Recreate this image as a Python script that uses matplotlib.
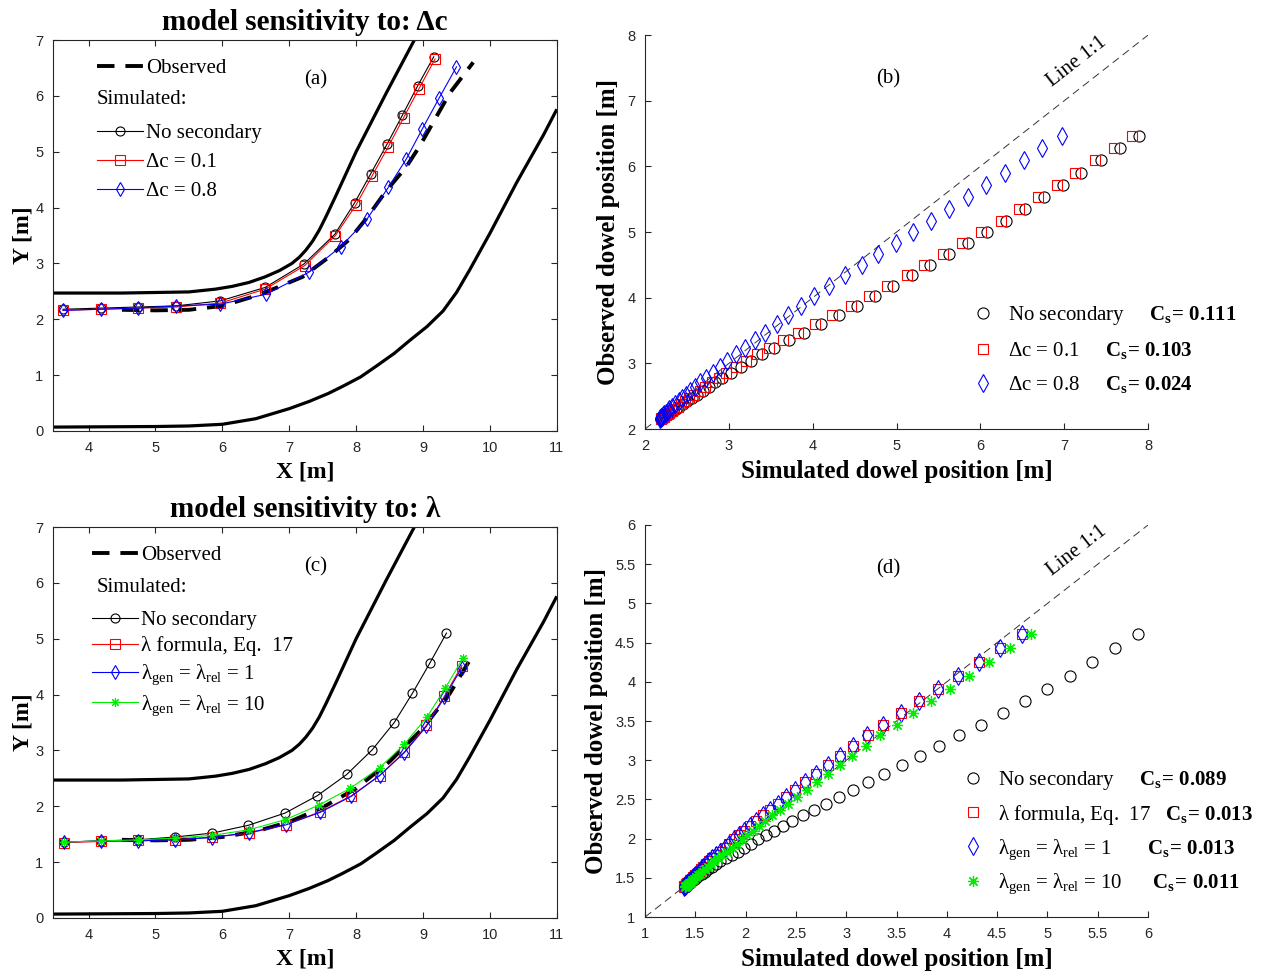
import matplotlib
matplotlib.use("Agg")
import matplotlib.pyplot as plt

plt.rcParams['font.family'] = ['Liberation Serif', 'DejaVu Serif']
plt.rcParams['mathtext.fontset'] = 'custom'
plt.rcParams['mathtext.rm'] = 'Liberation Serif'
plt.rcParams['mathtext.it'] = 'Liberation Serif:italic'
plt.rcParams['mathtext.bf'] = 'Liberation Serif:bold'

# channel banks (plan view, same flume in (a) and (c))
bank_up_x = [3.47, 4.5, 5.5, 5.66, 5.9, 6.15, 6.4, 6.64, 6.85, 7.04, 7.15, 7.25, 7.35, 7.45, 7.55, 7.7,
             8.0, 8.45, 8.87, 9.0]
bank_up_y = [2.47, 2.47, 2.49, 2.51, 2.54, 2.59, 2.66, 2.76, 2.87, 3.00, 3.11, 3.24, 3.40, 3.60, 3.84, 4.22,
             5.00, 6.05, 7.00, 7.30]
bank_lo_x = [3.47, 5.0, 5.5, 6.0, 6.5, 7.0, 7.3, 7.58, 7.8, 8.07, 8.3, 8.57, 8.8, 9.06, 9.3, 9.5, 9.7,
             10.0, 10.4, 10.8, 11.0]
bank_lo_y = [0.07, 0.08, 0.09, 0.12, 0.22, 0.40, 0.53, 0.67, 0.80, 0.97, 1.16, 1.39, 1.62, 1.87, 2.15, 2.48, 2.89,
             3.54, 4.45, 5.30, 5.76]

# (a) trajectories, sensitivity to delta c
obs_a_x = [4.5, 5.0, 5.5, 6.0, 6.5, 6.8, 7.2, 7.6, 7.9, 8.15, 8.45, 8.75, 8.95, 9.4, 9.75]
obs_a_y = [2.17, 2.16, 2.17, 2.24, 2.42, 2.56, 2.76, 3.12, 3.43, 3.80, 4.30, 4.73, 5.10, 6.05, 6.60]
nosec_a_x = [3.62, 4.18, 4.74, 5.31, 5.97, 6.64, 7.22, 7.68, 7.98, 8.22, 8.46, 8.69, 8.92, 9.16]
nosec_a_y = [2.18, 2.20, 2.22, 2.24, 2.33, 2.57, 2.99, 3.52, 4.09, 4.61, 5.13, 5.65, 6.18, 6.70]
dc01_a_x = [3.62, 4.18, 4.74, 5.31, 5.97, 6.64, 7.23, 7.69, 8.00, 8.24, 8.48, 8.71, 8.94, 9.18]
dc01_a_y = [2.16, 2.18, 2.20, 2.22, 2.29, 2.54, 2.96, 3.50, 4.05, 4.57, 5.09, 5.61, 6.13, 6.66]
dc08_a_x = [3.62, 4.18, 4.74, 5.31, 5.97, 6.66, 7.29, 7.77, 8.16, 8.48, 8.75, 8.99, 9.24, 9.50]
dc08_a_y = [2.16, 2.18, 2.20, 2.24, 2.27, 2.45, 2.84, 3.30, 3.79, 4.36, 4.87, 5.41, 5.96, 6.52]

# (b) observed vs simulated dowel position
obs_b = [6.47, 6.28, 6.09, 5.90, 5.71, 5.53, 5.35, 5.17, 5.00, 4.83, 4.66, 4.50, 4.34, 4.18, 4.03,
         3.88, 3.74, 3.60, 3.47, 3.35, 3.24, 3.14, 3.04, 2.95, 2.86, 2.78, 2.71, 2.64, 2.58, 2.52,
         2.47, 2.42, 2.38, 2.34, 2.31, 2.28, 2.25, 2.23, 2.21, 2.19, 2.18, 2.17, 2.17, 2.16]
nosec_b = [7.89, 7.66, 7.44, 7.20, 6.98, 6.76, 6.53, 6.31, 6.08, 5.85, 5.62, 5.40, 5.19, 4.96, 4.74,
           4.53, 4.31, 4.10, 3.90, 3.72, 3.54, 3.40, 3.26, 3.14, 3.02, 2.92, 2.84, 2.76, 2.69, 2.62,
           2.56, 2.50, 2.45, 2.41, 2.37, 2.33, 2.30, 2.28, 2.26, 2.24, 2.22, 2.21, 2.20, 2.20]
dc01_b = [7.81, 7.59, 7.37, 7.13, 6.91, 6.69, 6.46, 6.24, 6.01, 5.78, 5.55, 5.33, 5.12, 4.89, 4.67,
          4.46, 4.23, 4.03, 3.83, 3.65, 3.48, 3.34, 3.21, 3.09, 2.97, 2.88, 2.80, 2.72, 2.65, 2.59,
          2.53, 2.48, 2.43, 2.39, 2.35, 2.32, 2.29, 2.27, 2.25, 2.23, 2.21, 2.20, 2.19, 2.19]
dc08_b = [6.97, 6.74, 6.52, 6.29, 6.07, 5.85, 5.63, 5.41, 5.20, 4.99, 4.78, 4.59, 4.39, 4.20, 4.02,
          3.86, 3.71, 3.57, 3.43, 3.31, 3.19, 3.08, 2.98, 2.89, 2.81, 2.73, 2.66, 2.60, 2.54, 2.49,
          2.44, 2.40, 2.36, 2.32, 2.29, 2.27, 2.25, 2.23, 2.21, 2.20, 2.19, 2.19, 2.18, 2.18]
cs_b = ['0.111', '0.103', '0.024']

# (c) trajectories, sensitivity to lambda
obs_c_x = [4.5, 5.0, 5.5, 6.0, 6.5, 7.0, 7.5, 8.0, 8.5, 9.0, 9.4, 9.72]
obs_c_y = [1.40, 1.39, 1.40, 1.45, 1.55, 1.72, 1.98, 2.32, 2.80, 3.40, 4.02, 4.66]
nosec_c_x = [3.64, 4.19, 4.74, 5.29, 5.85, 6.39, 6.94, 7.42, 7.86, 8.24, 8.57, 8.84, 9.10, 9.35]
nosec_c_y = [1.36, 1.38, 1.40, 1.45, 1.52, 1.66, 1.88, 2.19, 2.57, 3.01, 3.50, 4.02, 4.56, 5.10]
lam_c_x = [3.64, 4.19, 4.74, 5.29, 5.85, 6.40, 6.95, 7.46, 7.93, 8.35, 8.72, 9.05, 9.32, 9.58]
lam_c_y = [1.35, 1.37, 1.39, 1.40, 1.45, 1.52, 1.67, 1.90, 2.19, 2.55, 2.97, 3.45, 3.97, 4.52]
lam1_c_x = [3.64, 4.19, 4.74, 5.29, 5.85, 6.40, 6.95, 7.46, 7.93, 8.35, 8.72, 9.05, 9.32, 9.58]
lam1_c_y = [1.36, 1.38, 1.38, 1.40, 1.44, 1.53, 1.67, 1.89, 2.18, 2.55, 2.96, 3.43, 3.95, 4.48]
lam10_c_x = [3.64, 4.19, 4.74, 5.29, 5.85, 6.40, 6.94, 7.44, 7.91, 8.35, 8.72, 9.06, 9.33, 9.60]
lam10_c_y = [1.36, 1.38, 1.40, 1.43, 1.48, 1.58, 1.76, 2.02, 2.32, 2.69, 3.11, 3.60, 4.11, 4.66]

# (d) observed vs simulated dowel position
obs_d = [4.61, 4.43, 4.25, 4.08, 3.91, 3.76, 3.60, 3.45, 3.32, 3.18, 3.06, 2.94, 2.82, 2.72, 2.62, 2.53,
         2.44, 2.37, 2.30, 2.22, 2.16, 2.10, 2.04, 1.99, 1.93, 1.88, 1.83, 1.79, 1.75, 1.71, 1.67, 1.64,
         1.61, 1.58, 1.55, 1.53, 1.51, 1.49, 1.47, 1.45, 1.44, 1.43, 1.42, 1.41, 1.40, 1.39, 1.39, 1.38]
nosec_d = [5.90, 5.67, 5.44, 5.22, 5.00, 4.78, 4.56, 4.34, 4.12, 3.92, 3.73, 3.55, 3.38, 3.22, 3.07, 2.93,
           2.80, 2.68, 2.57, 2.46, 2.37, 2.28, 2.20, 2.12, 2.05, 1.98, 1.92, 1.86, 1.80, 1.75, 1.71, 1.67,
           1.63, 1.60, 1.57, 1.54, 1.52, 1.50, 1.48, 1.46, 1.45, 1.44, 1.43, 1.42, 1.41, 1.41, 1.40, 1.40]
lam_d = [4.75, 4.53, 4.32, 4.11, 3.91, 3.72, 3.54, 3.37, 3.22, 3.07, 2.94, 2.82, 2.70, 2.59, 2.49, 2.40,
         2.32, 2.24, 2.17, 2.10, 2.04, 1.98, 1.93, 1.88, 1.83, 1.79, 1.75, 1.71, 1.67, 1.64, 1.61, 1.58,
         1.56, 1.54, 1.52, 1.50, 1.48, 1.47, 1.45, 1.44, 1.43, 1.42, 1.41, 1.41, 1.40, 1.40, 1.39, 1.39]
lam1_d = [4.75, 4.53, 4.32, 4.11, 3.91, 3.72, 3.54, 3.37, 3.21, 3.07, 2.94, 2.82, 2.70, 2.59, 2.49, 2.40,
          2.32, 2.24, 2.17, 2.10, 2.04, 1.98, 1.93, 1.88, 1.83, 1.79, 1.75, 1.71, 1.67, 1.64, 1.61, 1.58,
          1.56, 1.54, 1.52, 1.50, 1.48, 1.47, 1.45, 1.44, 1.43, 1.42, 1.41, 1.41, 1.40, 1.40, 1.39, 1.39]
lam10_d = [4.84, 4.63, 4.42, 4.22, 4.03, 3.84, 3.66, 3.50, 3.34, 3.20, 3.06, 2.94, 2.82, 2.71, 2.61, 2.51,
           2.42, 2.34, 2.26, 2.19, 2.13, 2.07, 2.01, 1.96, 1.91, 1.86, 1.81, 1.77, 1.73, 1.69, 1.66, 1.63,
           1.60, 1.57, 1.55, 1.53, 1.51, 1.49, 1.47, 1.46, 1.45, 1.44, 1.43, 1.42, 1.41, 1.41, 1.40, 1.40]
cs_d = ['0.089', '0.013', '0.013', '0.011']

plan_xticks = [4, 5, 6, 7, 8, 9, 10, 11]
plan_yticks = [0, 1, 2, 3, 4, 5, 6, 7]
half_ticks = [1, 1.5, 2, 2.5, 3, 3.5, 4, 4.5, 5, 5.5, 6]
half_labels = ['1', '1.5', '2', '2.5', '3', '3.5', '4', '4.5', '5', '5.5', '6']

TICK_COLOR = '#262626'
GREEN = '#00ee00'
FS_LEG = 15


def style_ticks(ax):
    ax.tick_params(direction='in', length=4, width=0.8, labelsize=10.5,
                   colors=TICK_COLOR, labelcolor=TICK_COLOR, pad=7)
    for lab in ax.get_xticklabels() + ax.get_yticklabels():
        lab.set_fontfamily('Liberation Sans')
    for sp in ax.spines.values():
        sp.set_color(TICK_COLOR)
        sp.set_linewidth(0.8)


def plan_axes(ax, title, tag):
    ax.plot(bank_up_x, bank_up_y, color='black', lw=2.3, solid_capstyle='butt')
    ax.plot(bank_lo_x, bank_lo_y, color='black', lw=2.3, solid_capstyle='butt')
    ax.set_xlim(3.47, 11)
    ax.set_ylim(0, 7)
    ax.set_xticks(plan_xticks)
    ax.set_yticks(plan_yticks)
    ax.tick_params(top=True, right=True)
    ax.set_xlabel('X [m]', fontsize=17, fontweight='bold', labelpad=5)
    ax.set_ylabel('Y [m]', fontsize=17, fontweight='bold', labelpad=1)
    ax.set_title(title, fontsize=21, fontweight='bold', pad=7)
    ax.text(0.522, 0.898, tag, transform=ax.transAxes, fontsize=15, ha='center', va='center')
    style_ticks(ax)


def observed_line(ax, x, y):
    ln, = ax.plot(x, y, color='black', lw=2.8, linestyle=(0, (4.5, 2.8)), dash_capstyle='butt')
    return ln


def one_to_one(ax, lo, hi, txt_x, txt_y, tag):
    ax.plot([lo, hi], [lo, hi], color='#333333', lw=0.7, linestyle=(0, (8, 5)))
    ax.set_xlim(lo, hi)
    ax.set_ylim(lo, hi)
    ax.spines['top'].set_visible(False)
    ax.spines['right'].set_visible(False)
    ax.text(txt_x, txt_y, 'Line 1:1', fontsize=15, rotation=38, ha='center', va='center',
            rotation_mode='anchor')
    ax.text(0.483, 0.889, tag, transform=ax.transAxes, fontsize=15, ha='center', va='center')
    ax.set_xlabel('Simulated dowel position [m]', fontsize=18, fontweight='bold', labelpad=5)
    ax.set_ylabel('Observed dowel position [m]', fontsize=18, fontweight='bold', labelpad=5)


def cs_text(val):
    return r'$\mathbf{C_s\!=\,%s}$' % val


fig = plt.figure(figsize=(12.69, 9.74), dpi=100)
ax_a = fig.add_axes([0.0418, 0.5575, 0.397, 0.4014])
ax_b = fig.add_axes([0.5083, 0.5595, 0.3964, 0.4045])
ax_c = fig.add_axes([0.0418, 0.0575, 0.397, 0.4014])
ax_d = fig.add_axes([0.5083, 0.0585, 0.3964, 0.4025])

# ---- (a)
plan_axes(ax_a, 'model sensitivity to: Δc', '(a)')
obs = observed_line(ax_a, obs_a_x, obs_a_y)
l1, = ax_a.plot(nosec_a_x, nosec_a_y, color='black', lw=0.8, marker='o', ms=6.5, mfc='none', mew=0.8)
l2, = ax_a.plot(dc01_a_x, dc01_a_y, color='red', lw=0.8, marker='s', ms=6.5, mfc='none', mew=0.8)
l3, = ax_a.plot(dc08_a_x, dc08_a_y, color='blue', lw=0.8, marker='d', ms=7.5, mfc='none', mew=0.8)
leg = ax_a.legend([obs], ['Observed'], loc='upper left', bbox_to_anchor=(0.087, 0.952),
                  frameon=False, fontsize=FS_LEG, handlelength=2.2, handletextpad=0.15,
                  borderpad=0, borderaxespad=0)
ax_a.add_artist(leg)
ax_a.text(0.087, 0.849, 'Simulated:', transform=ax_a.transAxes, fontsize=FS_LEG, va='center')
ax_a.legend([l1, l2, l3], ['No secondary', 'Δc = 0.1', 'Δc = 0.8'], loc='upper left',
            bbox_to_anchor=(0.087, 0.787), frameon=False, fontsize=FS_LEG, handlelength=2.2,
            handletextpad=0.15, borderpad=0, borderaxespad=0, labelspacing=0.45)

# ---- (b)
one_to_one(ax_b, 2, 8, 7.15, 7.59, '(b)')
ax_b.set_xticks(range(2, 9))
ax_b.set_yticks(range(2, 9))
style_ticks(ax_b)
s1, = ax_b.plot(nosec_b, obs_b, linestyle='none', marker='o', ms=8, mfc='none', mec='black', mew=0.8)
s2, = ax_b.plot(dc01_b, obs_b, linestyle='none', marker='s', ms=7.5, mfc='none', mec='red', mew=0.8)
s3, = ax_b.plot(dc08_b, obs_b, linestyle='none', marker='d', ms=9, mfc='none', mec='blue', mew=0.8)
labels_b = ['No secondary     ' + cs_text(cs_b[0]),
            'Δc = 0.1     ' + cs_text(cs_b[1]),
            'Δc = 0.8     ' + cs_text(cs_b[2])]
ax_b.legend([s1, s2, s3], labels_b, loc='upper left', bbox_to_anchor=(0.648, 0.317),
            frameon=False, fontsize=FS_LEG, handlelength=1.2, handletextpad=0.6,
            borderpad=0, borderaxespad=0, labelspacing=0.62)

# ---- (c)
plan_axes(ax_c, 'model sensitivity to: λ', '(c)')
obs = observed_line(ax_c, obs_c_x, obs_c_y)
m1, = ax_c.plot(nosec_c_x, nosec_c_y, color='black', lw=0.8, marker='o', ms=6.5, mfc='none', mew=0.8)
m2, = ax_c.plot(lam_c_x, lam_c_y, color='red', lw=0.8, marker='s', ms=6.5, mfc='none', mew=0.8)
m3, = ax_c.plot(lam1_c_x, lam1_c_y, color='blue', lw=0.8, marker='d', ms=7.5, mfc='none', mew=0.8)
m4, = ax_c.plot(lam10_c_x, lam10_c_y, color=GREEN, lw=0.8, marker=(8, 2, 0), ms=6.5, mew=0.8)
leg = ax_c.legend([obs], ['Observed'], loc='upper left', bbox_to_anchor=(0.077, 0.952),
                  frameon=False, fontsize=FS_LEG, handlelength=2.2, handletextpad=0.15,
                  borderpad=0, borderaxespad=0)
ax_c.add_artist(leg)
ax_c.text(0.087, 0.845, 'Simulated:', transform=ax_c.transAxes, fontsize=FS_LEG, va='center')
labels_c = ['No secondary', 'λ formula, Eq.  17',
            r'λ$_{\mathrm{gen}}$ = λ$_{\mathrm{rel}}$ = 1',
            r'λ$_{\mathrm{gen}}$ = λ$_{\mathrm{rel}}$ = 10']
ax_c.legend([m1, m2, m3, m4], labels_c, loc='upper left', bbox_to_anchor=(0.077, 0.787),
            frameon=False, fontsize=FS_LEG, handlelength=2.2, handletextpad=0.15,
            borderpad=0, borderaxespad=0, labelspacing=0.3)

# ---- (d)
one_to_one(ax_d, 1, 6, 5.29, 5.67, '(d)')
ax_d.set_xticks(half_ticks)
ax_d.set_yticks(half_ticks)
ax_d.set_xticklabels(half_labels)
ax_d.set_yticklabels(half_labels)
style_ticks(ax_d)
t1, = ax_d.plot(nosec_d, obs_d, linestyle='none', marker='o', ms=8, mfc='none', mec='black', mew=0.8)
t2, = ax_d.plot(lam_d, obs_d, linestyle='none', marker='s', ms=7.5, mfc='none', mec='red', mew=0.8)
t3, = ax_d.plot(lam1_d, obs_d, linestyle='none', marker='d', ms=9, mfc='none', mec='blue', mew=0.8)
t4, = ax_d.plot(lam10_d, obs_d, linestyle='none', marker=(8, 2, 0), ms=8, mec=GREEN, mew=0.9)
labels_d = ['No secondary     ' + cs_text(cs_d[0]),
            'λ formula, Eq.  17   ' + cs_text(cs_d[1]),
            r'λ$_{\mathrm{gen}}$ = λ$_{\mathrm{rel}}$ = 1       ' + cs_text(cs_d[2]),
            r'λ$_{\mathrm{gen}}$ = λ$_{\mathrm{rel}}$ = 10      ' + cs_text(cs_d[3])]
ax_d.legend([t1, t2, t3, t4], labels_d, loc='upper left', bbox_to_anchor=(0.628, 0.377),
            frameon=False, fontsize=FS_LEG, handlelength=1.2, handletextpad=0.6,
            borderpad=0, borderaxespad=0, labelspacing=0.5)

fig.savefig('out.png', dpi=100)
